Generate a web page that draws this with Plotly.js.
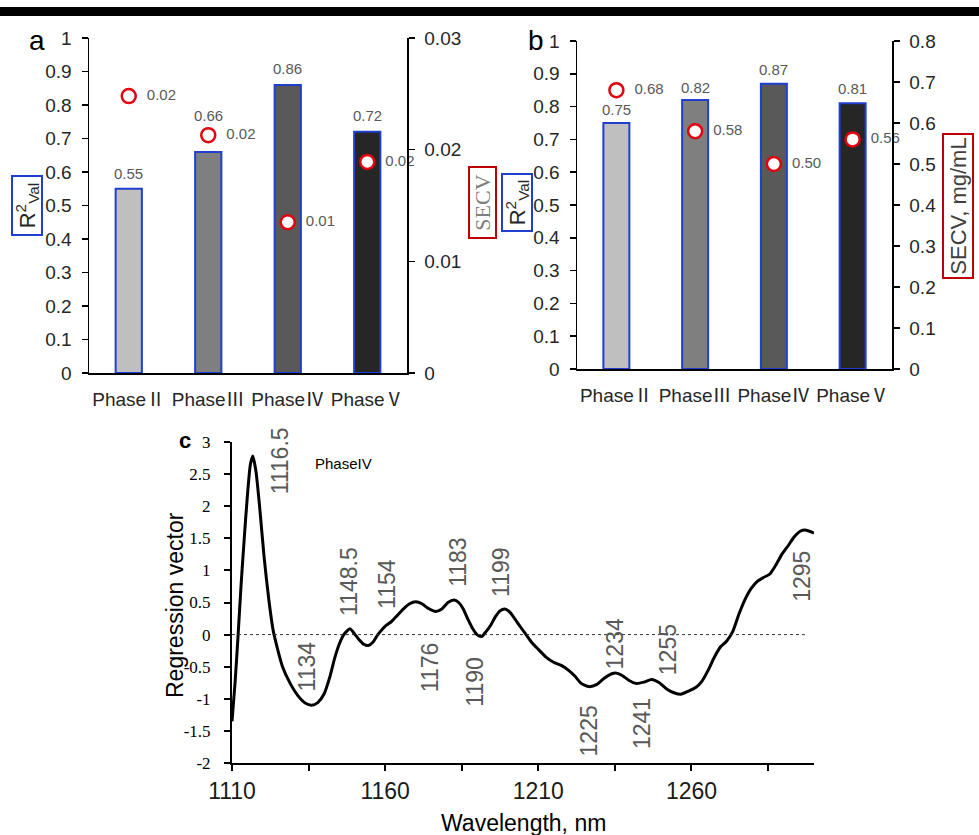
<!DOCTYPE html>
<html>
<head>
<meta charset="utf-8">
<script src="https://cdn.plot.ly/plotly-3.0.1.min.js"></script>
<style>html,body{margin:0;padding:0;background:#fff;}#chart{width:979px;height:835px;}</style>
</head>
<body>
<div id="chart"></div>
<script>
// ---------- data ----------
const categories = ['PhaseⅡ', 'PhaseⅢ', 'PhaseⅣ', 'PhaseⅤ'];
const r2ValA = [0.55, 0.66, 0.86, 0.72];
const secvA = [0.0248, 0.0213, 0.0135, 0.0189];
const r2ValB = [0.75, 0.82, 0.87, 0.81];
const secvB = [0.68, 0.58, 0.50, 0.56];

const wavelength = [1110,1111,1112,1113,1114,1115,1116,1116.8,1117.8,1119,
  1120.5,1122,1123.5,1126.5,1129,1131.5,1134,1136,1138,1140,
  1142,1143.5,1145,1146.5,1148.5,1150,1151.5,1153,1154.5,1156,
  1157.5,1159,1160.5,1162,1164,1166,1168,1170,1172,1174,
  1176.5,1178.5,1180.5,1182.5,1184,1185.5,1187,1188.5,1190,1191.5,
  1193,1194.5,1196,1197.5,1199,1200.5,1202,1204,1206,1208,
  1210,1212.5,1215,1217.5,1220,1222,1224,1226.5,1229,1231.5,
  1234,1235.5,1237.5,1239.5,1242,1244.5,1247,1249.5,1252,1254.5,
  1256.5,1259,1261.5,1263.5,1265.5,1267.5,1269.5,1271.5,1273.5,1275.5,
  1277.5,1279.5,1281.5,1283.5,1285.5,1287.5,1289.5,1291.5,1293.5,1295.5,
  1297,1298.5,1300];
const regression = [-1.35,-0.75,0.0,0.8,1.5,2.15,2.65,2.78,2.55,2.0,
  1.2,0.55,0.05,-0.5,-0.76,-0.95,-1.07,-1.10,-1.06,-0.93,
  -0.65,-0.37,-0.15,0.0,0.09,0.01,-0.08,-0.15,-0.17,-0.12,
  -0.01,0.08,0.15,0.2,0.30,0.40,0.48,0.51,0.48,0.41,
  0.36,0.40,0.50,0.54,0.50,0.40,0.24,0.10,0.0,-0.03,
  0.05,0.15,0.28,0.37,0.40,0.36,0.27,0.13,0.0,-0.13,
  -0.23,-0.35,-0.43,-0.48,-0.56,-0.65,-0.76,-0.81,-0.78,-0.68,
  -0.61,-0.60,-0.64,-0.71,-0.76,-0.74,-0.70,-0.75,-0.85,-0.91,
  -0.93,-0.88,-0.82,-0.72,-0.55,-0.35,-0.19,-0.10,0.05,0.32,
  0.55,0.72,0.83,0.89,0.94,1.08,1.25,1.38,1.52,1.61,
  1.63,1.61,1.58];

const peakLabels = ['1116.5','1134','1148.5','1154','1176','1183','1190','1199','1225','1234','1241','1255','1295'];
const xTicksC = [1110, 1160, 1210, 1260];
const xMinorTicksC = [1135, 1185, 1235, 1285];
const yTicksC = [3, 2.5, 2, 1.5, 1, 0.5, 0, -0.5, -1, -1.5, -2];

// ---------- helpers (layout only) ----------
const W = 979, H = 835;
const px = v => v / W;
const py = v => 1 - v / H;

const barFill = ['#bfbfbf', '#7f7f7f', '#595959', '#262626'];
const blue = '#1f3fd0';
const red = '#e3000f';
const boxRed = '#c00000';
const sans = 'Liberation Sans, Arial, Noto Sans CJK SC, sans-serif';
const serif = 'Liberation Serif, Times New Roman, serif';

function barTrace(vals, xa, ya) {
  return {
    type: 'bar', x: categories, y: vals, xaxis: xa, yaxis: ya,
    width: 0.33,
    marker: {color: barFill, line: {color: blue, width: 2}},
    hoverinfo: 'skip'
  };
}
function secvTrace(vals, xa, ya) {
  return {
    type: 'scatter', mode: 'markers+text', x: categories, y: vals, xaxis: xa, yaxis: ya,
    marker: {symbol: 'circle', size: 14, color: '#ffffff', line: {color: red, width: 2.5}},
    text: vals.map(v => '  ' + v.toFixed(2)), textposition: 'middle right',
    textfont: {size: 15, color: '#595959', family: sans},
    cliponaxis: false, hoverinfo: 'skip'
  };
}

const traces = [
  barTrace(r2ValA, 'x', 'y'),
  secvTrace(secvA, 'x', 'y2'),
  barTrace(r2ValB, 'x2', 'y3'),
  secvTrace(secvB, 'x2', 'y4'),
  {type: 'scatter', mode: 'lines', x: wavelength, y: regression, xaxis: 'x3', yaxis: 'y5',
   line: {color: '#000000', width: 3, shape: 'spline', smoothing: 0.6}, hoverinfo: 'skip'}
];

const catAxis = (dom, anchor) => ({
  domain: dom, anchor: anchor, type: 'category', showline: true, linecolor: '#000', linewidth: 2,
  ticks: '', tickangle: 0, ticklabelstandoff: 8, tickfont: {size: 19, family: sans, color: '#262626'},
  showgrid: false, zeroline: false, automargin: false, fixedrange: true
});
const valAxis = (dom, anchor, range, dtick, extra) => Object.assign({
  domain: dom, anchor: anchor, range: range, dtick: dtick, tick0: 0,
  showline: true, linecolor: '#000', linewidth: 1.5,
  ticks: 'outside', ticklen: 6, tickwidth: 1.5, tickcolor: '#000',
  ticklabelstandoff: 6, tickfont: {size: 19, family: sans, color: '#262626'},
  showgrid: false, zeroline: false, automargin: false, fixedrange: true
}, extra || {});

const domAx = [px(89), px(407)], domAy = [py(373), py(38)];
const domBx = [px(577), px(892)], domBy = [py(369), py(41)];
const domCx = [px(232), px(814)], domCy = [py(763), py(442)];

// label offsets above bar tops (px), layout only
const barLabelShiftA = [15, 36, 16, 16];
const barLabelShiftB = [13, 13, 14, 15];

// peak label placements (layout positions, data-coordinate anchors)
const peakPos = [[1125.7,2.70],[1134.6,-0.49],[1148.4,0.83],[1160.6,0.79],[1174.9,-0.51],[1183.7,1.13],
  [1189.5,-0.74],[1198.0,0.97],[1226.4,-1.50],[1235.1,-0.15],[1243.9,-1.39],[1252.6,-0.23],[1296.3,0.91]];

const ann = [];
function pAnn(text, x, y, font, extra) {
  ann.push(Object.assign({text: text, xref: 'paper', yref: 'paper', x: px(x), y: py(y),
    xanchor: 'center', yanchor: 'middle', showarrow: false, font: font}, extra || {}));
}
function barLabels(vals, shifts, xa, ya) {
  vals.forEach((v, i) => {
    ann.push({text: v.toFixed(2), xref: xa, yref: ya, x: categories[i], y: v,
      xanchor: 'center', yanchor: 'middle', yshift: shifts[i], showarrow: false,
      font: {size: 15, family: sans, color: '#595959'}});
  });
}
barLabels(r2ValA, barLabelShiftA, 'x', 'y');
barLabels(r2ValB, barLabelShiftB, 'x2', 'y3');

pAnn('a', 37, 41, {size: 28, family: sans, color: '#000'});
pAnn('b', 536, 40, {size: 28, family: sans, color: '#000'});
pAnn('<b>c</b>', 185, 440, {size: 22, family: sans, color: '#000'});
pAnn('R<sup>2</sup><sub>Val</sub>', 27, 206, {size: 22, family: sans, color: '#262626'},
  {textangle: -90, bordercolor: blue, borderwidth: 2, borderpad: 0, width: 57, height: 28});
pAnn('SECV', 482, 203, {size: 22, family: serif, color: '#7f7f7f'},
  {textangle: -90, bordercolor: boxRed, borderwidth: 2, borderpad: 0, width: 69, height: 25});
pAnn('R<sup>2</sup><sub>Val</sub>', 517, 203, {size: 22, family: sans, color: '#262626'},
  {textangle: -90, bordercolor: blue, borderwidth: 2, borderpad: 0, width: 55, height: 28});
pAnn('SECV, mg/mL', 958, 206, {size: 22, family: sans, color: '#404040'},
  {textangle: -90, bordercolor: boxRed, borderwidth: 2, borderpad: 0, width: 142, height: 28});
pAnn('Regression vector', 175, 605, {size: 23, family: sans, color: '#000'}, {textangle: -90});
pAnn('Wavelength, nm', 523, 823, {size: 23, family: sans, color: '#000'});
pAnn('PhaseIV', 343, 463, {size: 15, family: sans, color: '#000'});
peakLabels.forEach((t, i) => {
  ann.push({text: t, xref: 'x3', yref: 'y5', x: peakPos[i][0], y: peakPos[i][1],
    xanchor: 'center', yanchor: 'middle', showarrow: false, textangle: -90,
    font: {size: 23, family: sans, color: '#595959'}});
});

const layout = {
  width: W, height: H, margin: {l: 0, r: 0, t: 0, b: 0},
  paper_bgcolor: '#ffffff', plot_bgcolor: 'rgba(0,0,0,0)', showlegend: false,
  font: {family: sans, color: '#262626'},
  xaxis: catAxis(domAx, 'y'),
  yaxis: valAxis(domAy, 'x', [0, 1], 0.1),
  yaxis2: valAxis(domAy, 'x', [0, 0.03], 0.01, {overlaying: 'y', side: 'right'}),
  xaxis2: catAxis(domBx, 'y3'),
  yaxis3: valAxis(domBy, 'x2', [0, 1], 0.1),
  yaxis4: valAxis(domBy, 'x2', [0, 0.8], 0.1, {overlaying: 'y3', side: 'right'}),
  xaxis3: {
    domain: domCx, anchor: 'y5', range: [1110, 1300], tickvals: xTicksC, ticktext: xTicksC.map(String),
    showline: true, linecolor: '#000', linewidth: 2, ticks: 'outside', ticklen: 6, tickwidth: 2, tickcolor: '#000',
    minor: {tickvals: xMinorTicksC, ticks: 'outside', ticklen: 6, tickwidth: 2, tickcolor: '#000'},
    tickangle: 0, ticklabelstandoff: 0, tickfont: {size: 23, family: sans, color: '#1a1a1a'},
    showgrid: false, zeroline: false, automargin: false, fixedrange: true
  },
  yaxis5: {
    domain: domCy, anchor: 'x3', range: [-2, 3], tickvals: yTicksC, ticktext: yTicksC.map(String),
    showline: true, linecolor: '#000', linewidth: 2, ticks: 'outside', ticklen: 6, tickwidth: 2, tickcolor: '#000',
    ticklabelstandoff: 10, tickfont: {size: 17, family: serif, color: '#000'},
    showgrid: false, zeroline: false, automargin: false, fixedrange: true
  },
  shapes: [
    {type: 'rect', xref: 'paper', yref: 'paper', x0: 0, x1: 1, y0: py(16), y1: py(7),
     fillcolor: '#000', line: {width: 0}},
    {type: 'line', xref: 'x3', yref: 'y5', x0: 1110, x1: 1297, y0: 0, y1: 0,
     line: {color: '#333', width: 1, dash: 'dot'}}
  ],
  annotations: ann
};

Plotly.newPlot('chart', traces, layout, {staticPlot: true, displayModeBar: false});
</script>
</body>
</html>
